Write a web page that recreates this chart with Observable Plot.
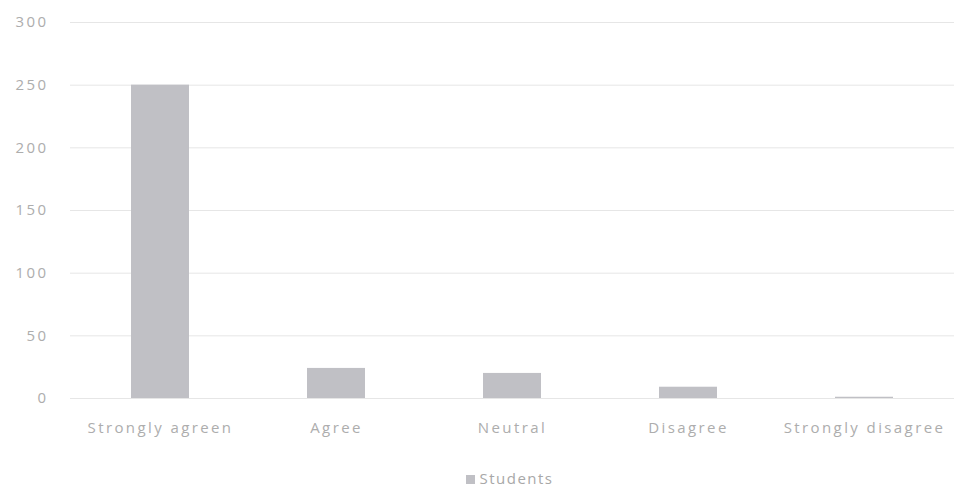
<!DOCTYPE html>
<html>
<head>
<meta charset="utf-8">
<script src="https://cdn.jsdelivr.net/npm/d3@7"></script>
<script src="https://cdn.jsdelivr.net/npm/@observablehq/plot@0.6"></script>
<style>
  body { margin: 0; background: #fff; font-family: "Open Sans", sans-serif; }
  #legend { position: relative; width: 974px; text-align: center; font-size: 15px; letter-spacing: 1.5px; color: #a8a8a8; margin-top: 18px; padding-left: 46px; box-sizing: border-box; }
  #legend .sw { display: inline-block; width: 9px; height: 9px; background: #c0c0c5; margin-right: 4px; vertical-align: 0px; }
  svg text { letter-spacing: 2.4px; }
</style>
</head>
<body>
<div id="chart"></div>
<div id="legend"><span class="sw"></span>Students</div>
<script>
const categories = ["Strongly agreen", "Agree", "Neutral", "Disagree", "Strongly disagree"];
const students = [250, 24, 20, 9, 1];
const yTicks = [0, 50, 100, 150, 200, 250, 300];

const data = categories.map((c, i) => ({category: c, value: students[i]}));

const chart = Plot.plot({
  width: 974,
  height: 450,
  marginTop: 22,
  marginBottom: 52,
  marginLeft: 70,
  marginRight: 20,
  style: {fontFamily: "Open Sans, sans-serif", fontSize: "15px", color: "#adadad", background: "#fff"},
  x: {domain: categories, paddingInner: 0.67, paddingOuter: 0.34, align: 0.5, label: null, tickSize: 0, tickPadding: 24},
  y: {domain: [0, 300], ticks: yTicks, label: null, tickSize: 0, tickPadding: 22},
  marks: [
    Plot.gridY(yTicks, {stroke: "#e6e6e6", strokeOpacity: 1}),
    Plot.barY(data, {x: "category", y: "value", fill: "#c0c0c5"})
  ]
});
document.getElementById("chart").appendChild(chart);
</script>
</body>
</html>
